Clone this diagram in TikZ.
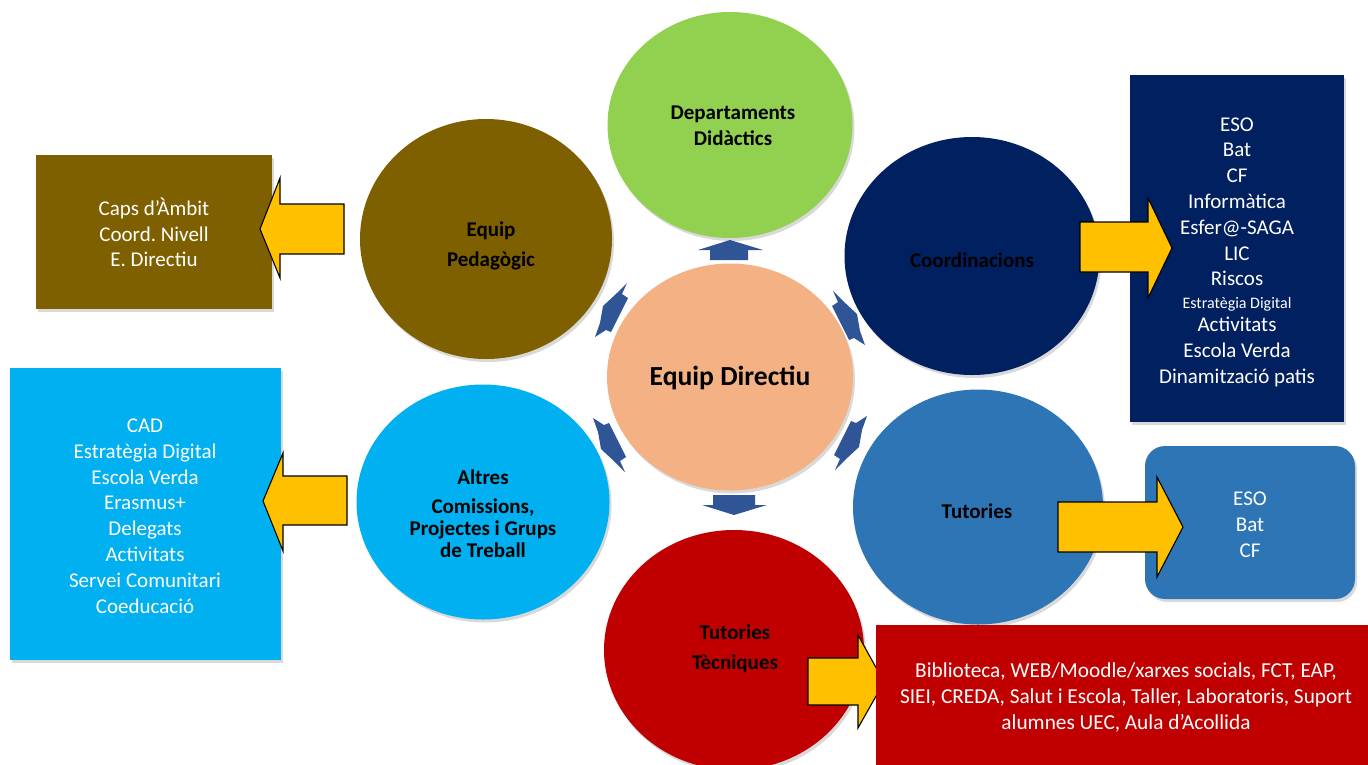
\documentclass[tikz,border=0pt]{standalone}
\usepackage{fontspec}
\setmainfont{Carlito}
\usetikzlibrary{shapes.geometric,shadows}
\definecolor{cgreen}{HTML}{92D050}
\definecolor{cbrown}{HTML}{7F6000}
\definecolor{cnavy}{HTML}{002060}
\definecolor{ccyan}{HTML}{00B0F0}
\definecolor{cblue}{HTML}{2E75B6}
\definecolor{cred}{HTML}{C00000}
\definecolor{cpeach}{HTML}{F4B183}
\definecolor{cyellow}{HTML}{FFC000}
\definecolor{carrow}{HTML}{2F5597}
\frenchspacing
\tikzset{
  shad/.style={drop shadow={shadow xshift=2pt, shadow yshift=-3pt, opacity=0.3}},
  circ/.style={ellipse, inner sep=0pt, draw=none, shad},
  clabel/.style={font=\bfseries\fontsize{21}{25.6}\selectfont, align=center, text=black, inner sep=0pt},
  box/.style={rectangle, inner sep=0pt, draw=none, shad},
  blabel/.style={font=\fontsize{21}{25.8}\selectfont, align=center, text=white, inner sep=0pt},
  yarrow/.style={fill=cyellow, draw=black, line width=1.1pt, line join=miter},
  barrow/.style={fill=carrow, draw=none}
}
\begin{document}
\begin{tikzpicture}[x=1pt,y=-1pt]
\useasboundingbox (0,0) rectangle (1368,764);
% outer ellipses
\node[circ, fill=cgreen, minimum width=245pt, minimum height=226pt] (dep) at (730,125) {};
\node[circ, fill=cbrown, minimum width=252pt, minimum height=240pt] (ped) at (486,239) {};
\node[circ, fill=cnavy, minimum width=255pt, minimum height=238pt] (coord) at (972,256) {};
\node[circ, fill=ccyan, minimum width=253pt, minimum height=235pt] (altres) at (483,502) {};
\node[circ, fill=cblue, minimum width=250pt, minimum height=235pt] (tut) at (978,507) {};
\node[circ, fill=cred, minimum width=260pt, minimum height=240pt] (tutt) at (734,650) {};
% centre
\node[circ, fill=cpeach, minimum width=246pt, minimum height=227pt] (ed) at (730,377) {};
\node[font=\bfseries\fontsize{27.6}{32}\selectfont, inner sep=0pt] (edt) at (730,378) {Equip Directiu};
% circle labels
\node[clabel] (dept) at (733,126) {Departaments\\Didàctics};
\node[clabel] (pedt) at (491,246) {Equip\\[4.4pt]Pedagògic};
\node[clabel] (coordt) at (972,260) {Coordinacions};
\node[clabel, font=\bfseries\fontsize{21}{22}\selectfont] (altrest) at (483,514) {Altres\\[7pt]Comissions,\\Projectes i Grups\\de Treball};
\node[clabel] (tutlab) at (977,511) {Tutories};
\node[clabel] (tuttt) at (735,649) {Tutories\\[4.4pt]Tècniques};
% small blue arrows
\path[barrow] (710,260) -- (710,250) -- (698,250) -- (730,240) -- (763,250) -- (748,250) -- (748,260) -- cycle;
\path[barrow] (713,495) -- (755,495) -- (755,505) -- (767,505) -- (734,515) -- (702,505) -- (713,505) -- cycle;
\begin{scope}[shift={(611,310)}]
\path[barrow] (16,-27) -- (11,-16) -- (17,-12) -- (0,22) -- (-5,20) -- (-16,27) -- (-11,13) -- (-8,-4) -- (6,-17) -- cycle;
\end{scope}
\begin{scope}[shift={(849,318)}, xscale=-1]
\path[barrow] (16,-27) -- (11,-16) -- (17,-12) -- (0,22) -- (-5,20) -- (-16,27) -- (-11,13) -- (-8,-4) -- (6,-17) -- cycle;
\end{scope}
\begin{scope}[shift={(609,445)}, yscale=-1]
\path[barrow] (16,-27) -- (11,-16) -- (17,-12) -- (0,22) -- (-5,20) -- (-16,27) -- (-11,13) -- (-8,-4) -- (6,-17) -- cycle;
\end{scope}
\begin{scope}[shift={(851,443)}, xscale=-1, yscale=-1]
\path[barrow] (16,-27) -- (11,-16) -- (17,-12) -- (0,22) -- (-5,20) -- (-16,27) -- (-11,13) -- (-8,-4) -- (6,-17) -- cycle;
\end{scope}
% boxes
\node[box, fill=cbrown, minimum width=236pt, minimum height=154pt] (bped) at (154,232) {};
\node[blabel] (bpedt) at (154,232.5) {Caps d’Àmbit\\Coord. Nivell\\E. Directiu};
\node[box, fill=cnavy, minimum width=214pt, minimum height=347pt] (bcoord) at (1237,248.5) {};
\node[blabel] (bcoordt) at (1237,252) {ESO\\Bat\\CF\\Informàtica\\Esfer@-SAGA\\LIC\\Riscos\\[-3pt]{\fontsize{16}{18}\selectfont Estratègia Digital}\\[-3pt]Activitats\\Escola Verda\\Dinamització patis};
\node[box, fill=ccyan, minimum width=271pt, minimum height=292pt] (baltres) at (145.5,514) {};
\node[blabel] (baltrest) at (145,516) {CAD\\Estratègia Digital\\Escola Verda\\Erasmus+\\Delegats\\Activitats\\Servei Comunitari\\Coeducació};
\node[box, fill=cblue, rounded corners=20pt, minimum width=210pt, minimum height=153pt] (btut) at (1250,522.5) {};
\node[blabel] (btutt) at (1250,524.5) {ESO\\Bat\\CF};
% yellow arrows
\draw[yarrow] (344,204) -- (280,204) -- (280,178) -- (260,229) -- (280,278) -- (280,254) -- (344,254) -- cycle;
\draw[yarrow] (347,476) -- (283,476) -- (283,453) -- (263,501) -- (283,551) -- (283,525) -- (347,525) -- cycle;
\draw[yarrow] (1080,222) -- (1148,222) -- (1148,198) -- (1172,248) -- (1148,298) -- (1148,272) -- (1080,272) -- cycle;
\draw[yarrow] (1058,502) -- (1157,502) -- (1157,477) -- (1183,527) -- (1157,577) -- (1157,552) -- (1058,552) -- cycle;
\draw[yarrow] (808,658) -- (858,658) -- (858,635) -- (884,682) -- (858,728) -- (858,705) -- (808,705) -- cycle;
% red box
\node[box, fill=cred, minimum width=495pt, minimum height=142pt] (btutt2) at (1123.5,696) {};
\node[blabel, font=\fontsize{21.3}{26}\selectfont] (btutt2t) at (1126,697) {Biblioteca, WEB/Moodle/xarxes socials, FCT, EAP,\\SIEI, CREDA, Salut i Escola, Taller, Laboratoris, Suport\\alumnes UEC, Aula d’Acollida};
\end{tikzpicture}
\end{document}
